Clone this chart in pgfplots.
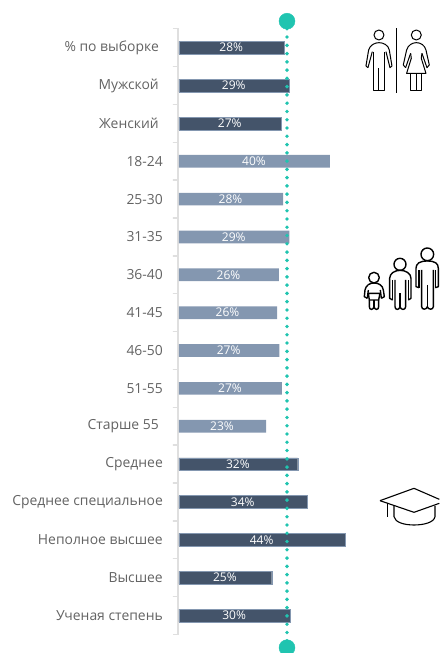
\documentclass[border=0pt]{standalone}
\usepackage{fontspec}
\setmainfont{Open Sans}
\usepackage{pgfplots}
\usepackage{pgfplotstable}
\pgfplotsset{compat=1.18}
\definecolor{darkbar}{HTML}{44546A}
\definecolor{lightbar}{HTML}{8497B0}
\definecolor{teal}{HTML}{20C4B0}
\definecolor{axgrey}{HTML}{DFDFDF}
\definecolor{txt}{HTML}{636363}
\pgfplotstableread{
y v lab
0 28.0 28
1 29.3 29
2 27.2 27
11 31.5 32
12 34.1 34
13 44.1 44
14 24.6 25
15 29.5 30
}\darktable
\pgfplotstableread{
y v lab
3 40.05 40
4 27.6 28
5 29.3 29
6 26.5 26
7 26.0 26
8 26.6 27
9 27.3 27
10 23.1 23
}\lighttable
\begin{document}
\begin{tikzpicture}
\useasboundingbox (-179pt,0pt) rectangle (260pt,653pt);
\begin{axis}[
  scale only axis, width=260pt, height=653pt,
  at={(0pt,0pt)}, anchor=south west,
  xmin=0, xmax=68.97,
  y dir=reverse, ymin=-1.26, ymax=15.99,
  clip=false,
  axis line style={draw=none},
  xtick=\empty,
  ytick={0,...,15},
  ytick pos=left,
  yticklabels={\%\ по выборке\hspace*{4pt},Мужской\hspace*{4pt},Женский\hspace*{4pt},18-24,25-30,31-35,36-40,41-45,46-50,51-55,Старше 55\hspace*{4pt},Среднее,Среднее специальное,Неполное высшее,Высшее,Ученая степень},
  yticklabel style={anchor=east, font=\fontsize{13.9pt}{15pt}\selectfont, text=txt, xshift=-16pt, inner sep=0pt},
  major tick length=0pt,
  xbar, bar shift=0pt, bar width=12.7pt,
  nodes near coords={\pgfmathprintnumber[assume math mode=true]{\pgfplotspointmeta}\%},
]
% grey axis line with its ticks between the categories
\addplot[sharp plot, draw=axgrey, line width=1.4pt, nodes near coords={}, forget plot, mark=none] coordinates {
(-1.6,-0.5)(-0.3,-0.5)(-0.3,0.5)(-1.6,0.5)(-0.3,0.5)(-0.3,1.5)(-1.6,1.5)(-0.3,1.5)(-0.3,2.5)(-1.6,2.5)(-0.3,2.5)(-0.3,3.5)(-1.6,3.5)(-0.3,3.5)(-0.3,4.5)(-1.6,4.5)(-0.3,4.5)(-0.3,5.5)(-1.6,5.5)(-0.3,5.5)(-0.3,6.5)(-1.6,6.5)(-0.3,6.5)(-0.3,7.5)(-1.6,7.5)(-0.3,7.5)(-0.3,8.5)(-1.6,8.5)(-0.3,8.5)(-0.3,9.5)(-1.6,9.5)(-0.3,9.5)(-0.3,10.5)(-1.6,10.5)(-0.3,10.5)(-0.3,11.5)(-1.6,11.5)(-0.3,11.5)(-0.3,12.5)(-1.6,12.5)(-0.3,12.5)(-0.3,13.5)(-1.6,13.5)(-0.3,13.5)(-0.3,14.5)(-1.6,14.5)(-0.3,14.5)(-0.3,15.5)(-1.6,15.5)};
\addplot[draw=lightbar, line width=0.3pt, fill=darkbar, nodes near coords={}] table[x=v, y=y] {\darktable};
\addplot[draw=none, fill=lightbar, nodes near coords={}] table[x=v, y=y] {\lighttable};
% reference line
\addplot[sharp plot, teal, line width=3.9pt, line cap=round, dash pattern=on 0pt off 8.27pt, nodes near coords={}, mark=none] coordinates {(28.65,-0.5) (28.65,15.85)};
\addplot[only marks, mark=*, mark size=8pt, teal, nodes near coords={}] coordinates {(28.65,-0.70) (28.65,15.85)};
% value labels
\addplot[only marks, mark=none, draw=none, point meta=explicit,
  nodes near coords style={anchor=center, text=white, font=\fontsize{12pt}{14pt}\selectfont, inner sep=0pt, xshift=-0.5pt}]
  table[x expr=\thisrow{v}/2, y=y, meta=lab] {\darktable};
\addplot[only marks, mark=none, draw=none, point meta=explicit,
  nodes near coords style={anchor=center, text=white, font=\fontsize{12pt}{14pt}\selectfont, inner sep=0pt, xshift=-0.5pt}]
  table[x expr=\thisrow{v}/2, y=y, meta=lab] {\lighttable};
\end{axis}
% people icon
\begin{scope}[shift={(-179pt,653pt)},x=0.3333pt,y=-0.3333pt,line width=1pt,black,line join=round]
\draw (1137,105) circle[radius=15];
\draw (1104,203) -- (1098,198) -- (1106,150) .. controls (1110,135) and (1125,128) .. (1137,128) .. controls (1150,128) and (1165,135) .. (1168,150) -- (1176,198) -- (1170,203) -- (1158,155);
\draw (1104,203) -- (1117,155);
\draw (1120,155) -- (1120,273) -- (1155,273) -- (1155,155);
\draw (1137,205) -- (1137,273);
\draw (1191,85) -- (1191,280);
\draw (1249,105) circle[radius=15];
\draw (1217,203) -- (1210,195) -- (1220,150) .. controls (1224,135) and (1238,128) .. (1249,128) .. controls (1262,128) and (1274,135) .. (1278,150) -- (1288,195) -- (1281,203) -- (1266,160);
\draw (1217,203) -- (1232,160);
\draw (1232,160) -- (1234,175) -- (1220,220) -- (1278,220) -- (1264,175) -- (1266,160);
\draw (1232,220) -- (1232,273) -- (1266,273) -- (1266,220);
\draw (1249,220) -- (1249,273);
\end{scope}
% family icon
\begin{scope}[shift={(161pt,418pt)},x=0.3333pt,y=-0.3333pt,line width=1.4pt,black,line join=round]
% adult
\draw (262,58) circle[radius=19];
\draw (237,158) -- (228,155) -- (228,100) .. controls (228,85) and (240,78) .. (262,78) .. controls (285,78) and (295,85) .. (295,100) -- (295,155) -- (286,158);
\draw (237,158) -- (237,105); \draw (286,158) -- (286,105);
\draw (245,105) -- (245,215) .. controls (245,225) and (260,225) .. (262,215) .. controls (264,225) and (280,225) .. (280,215) -- (280,105);
\draw (262,150) -- (262,215);
% middle
\draw (180,88) circle[radius=18];
\draw (158,195) -- (149,190) -- (149,130) .. controls (149,115) and (165,106) .. (180,106) .. controls (197,106) and (213,115) .. (213,130) -- (213,190) -- (205,195);
\draw (158,195) -- (158,135); \draw (205,195) -- (205,135);
\draw (165,135) -- (165,215) .. controls (165,226) and (178,226) .. (180,215) .. controls (182,226) and (197,226) .. (197,215) -- (197,135);
\draw (180,175) -- (180,215);
% child
\draw (102,128) circle[radius=16];
\draw (82,190) -- (73,185) -- (75,165) .. controls (78,150) and (90,144) .. (102,144) .. controls (115,144) and (128,150) .. (130,165) -- (133,185) -- (124,190);
\draw (82,190) -- (85,165); \draw (124,190) -- (121,165);
\draw (85,175) -- (120,175) -- (116,195) -- (88,195) -- cycle;
\draw (88,195) -- (88,215) .. controls (88,226) and (100,226) .. (102,215) .. controls (104,226) and (116,226) .. (116,215) -- (116,195);
\draw (102,195) -- (102,215);
\end{scope}
% cap icon
\begin{scope}[shift={(161pt,183pt)},x=0.3333pt,y=-0.3333pt,line width=1.1pt,black,line join=round]
\draw (120,92) -- (222,55) -- (298,88);
\draw (120,92) -- (222,127) -- (298,100);
\draw (142,98) -- (142,142);
\draw (162,108) -- (162,140) .. controls (165,158) and (195,165) .. (222,165) .. controls (250,165) and (282,158) .. (285,140) -- (285,108);
\end{scope}
\end{tikzpicture}
\end{document}
